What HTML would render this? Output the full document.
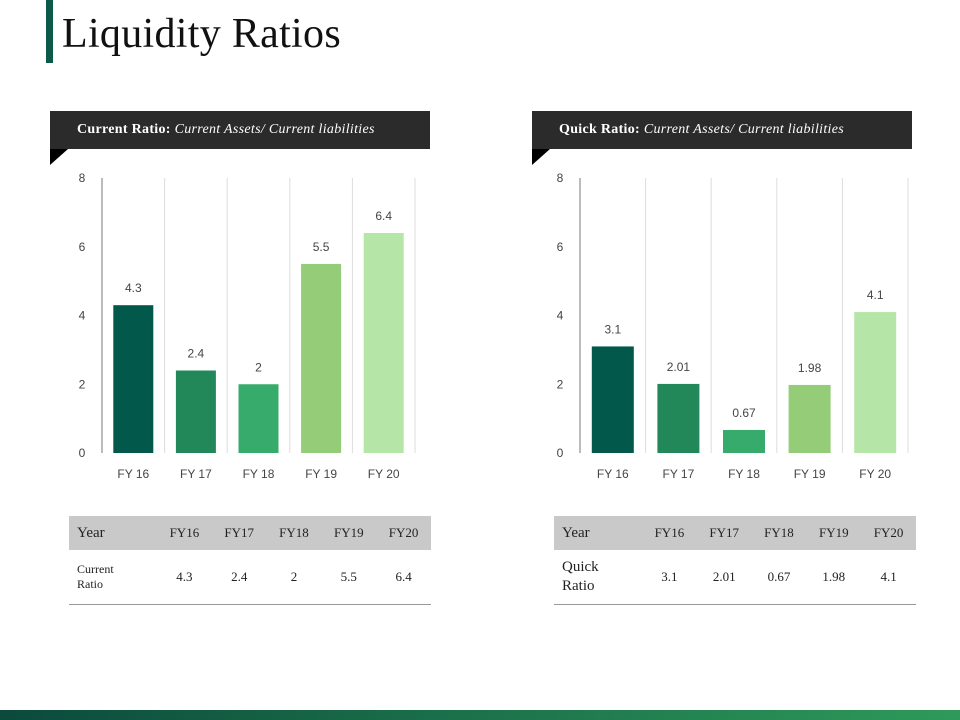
<!DOCTYPE html>
<html><head><meta charset="utf-8"><style>
body{margin:0;width:960px;height:720px;position:relative;background:#fff;font-family:"Liberation Serif",serif;overflow:hidden}
.abs{position:absolute}
.hdr{position:absolute;top:111px;height:38px;background:#2b2b2b;color:#fff;font-size:14px;letter-spacing:0.3px;line-height:38px;padding-left:27px;box-sizing:border-box;white-space:nowrap}
.fold{position:absolute;top:149px;width:0;height:0;border-top:16px solid #000;border-right:18px solid transparent}
table{position:absolute;border-collapse:collapse;font-family:"Liberation Serif",serif;font-size:13px;color:#222}
td{text-align:center;padding:0}
tr.h td{background:#c9c9c9;height:34px}
tr.r td{height:54px;border-bottom:1px solid #999}
td.first{text-align:left;padding-left:8px;width:80px}
</style></head><body>
<div class="abs" style="left:46px;top:0;width:7px;height:63px;background:#0d5a48"></div>
<div class="abs" style="left:62px;top:10px;font-size:42px;letter-spacing:0.3px;color:#111">Liquidity Ratios</div>

<div class="hdr" style="left:50px;width:380px"><b>Current Ratio:</b> <i>Current Assets/ Current liabilities</i></div>
<div class="fold" style="left:50px"></div>
<div class="hdr" style="left:532px;width:380px"><b>Quick Ratio:</b> <i>Current Assets/ Current liabilities</i></div>
<div class="fold" style="left:532px"></div>

<svg id="chart" class="abs" style="left:0;top:0" width="960" height="720"></svg>

<table style="left:69px;top:516px;width:362px">
<tr class="h"><td class="first" style="font-size:15px">Year</td><td>FY16</td><td>FY17</td><td>FY18</td><td>FY19</td><td>FY20</td></tr>
<tr class="r"><td class="first" style="font-size:12px;line-height:15px">Current<br>Ratio</td><td>4.3</td><td>2.4</td><td>2</td><td>5.5</td><td>6.4</td></tr>
</table>
<table style="left:554px;top:516px;width:362px">
<tr class="h"><td class="first" style="font-size:15px">Year</td><td>FY16</td><td>FY17</td><td>FY18</td><td>FY19</td><td>FY20</td></tr>
<tr class="r"><td class="first" style="font-size:15px;line-height:19px">Quick<br>Ratio</td><td>3.1</td><td>2.01</td><td>0.67</td><td>1.98</td><td>4.1</td></tr>
</table>

<div class="abs" style="left:0;top:710px;width:960px;height:10px;background:linear-gradient(90deg,#0b4a3c,#2e9a5a)"></div>
<script>
const categories=["FY 16","FY 17","FY 18","FY 19","FY 20"];
const currentValues=[4.3,2.4,2,5.5,6.4];
const quickValues=[3.1,2.01,0.67,1.98,4.1];
const yTicks=[0,2,4,6,8];
const colors=["#02584a","#22885a","#37ab6b","#94cc78","#b5e6a8"];
const svg=document.getElementById('chart');
const NS="http://www.w3.org/2000/svg";
function mk(t,a){const e=document.createElementNS(NS,t);for(const k in a)e.setAttribute(k,a[k]);svg.appendChild(e);return e;}
function draw(name,vals,x0,x1,tickX,bw){
 const y0=453,y8=178;
 const ys=v=>y0-(v/8)*(y0-y8);
 const step=(x1-x0)/categories.length;
 for(let i=0;i<=categories.length;i++){const g=mk('line',{x1:x0+i*step,x2:x0+i*step,y1:y8,y2:y0,stroke:i==0?'#777':'#ddd','stroke-width':1});
  }
 yTicks.forEach(t=>{const e=mk('text',{x:tickX,y:ys(t)+4,'font-size':12,fill:'#444','font-family':'Liberation Sans, sans-serif','text-anchor':'middle'});e.textContent=t;
  });
 vals.forEach((v,i)=>{const cx=x0+step*(i+0.5);
  const r=mk('rect',{x:cx-bw/2,y:ys(v),width:bw,height:y0-ys(v),fill:colors[i]});
  
  const l=mk('text',{x:cx,y:ys(v)-13,'font-size':12,fill:'#444','font-family':'Liberation Sans, sans-serif','text-anchor':'middle'});l.textContent=v;
  
  const c=mk('text',{x:cx,y:478,'font-size':12,fill:'#444','font-family':'Liberation Sans, sans-serif','text-anchor':'middle'});c.textContent=categories[i];
  });
}
draw('current',currentValues,102,415,82,40);
draw('quick',quickValues,580,908,560,42);
</script>
</body></html>
